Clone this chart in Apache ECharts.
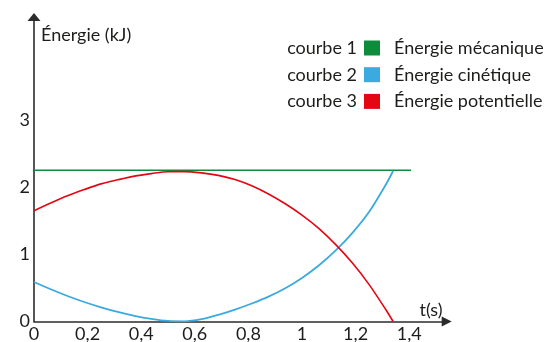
<!DOCTYPE html>
<html>
<head>
<meta charset="utf-8">
<script src="https://cdn.jsdelivr.net/npm/echarts@6/dist/echarts.min.js"></script>
<style>html,body{margin:0;padding:0;background:#fff}#c{width:552px;height:342px}</style>
</head>
<body>
<div id="c"></div>
<script>
// Data
const seriesNames = ['Énergie mécanique', 'Énergie cinétique', 'Énergie potentielle'];
const curveLabels = ['courbe 1', 'courbe 2', 'courbe 3'];
const colors = ['#0d8c3c', '#3aaae0', '#e30613'];
const yTicks = [0, 1, 2, 3];
const xTicks = [0, 0.2, 0.4, 0.6, 0.8, 1, 1.2, 1.4];

const mecaT = [0, 1.407];
const mecaE = [2.257, 2.257];

const times = [0, 0.0625, 0.125, 0.1875, 0.25, 0.3125, 0.375, 0.4375, 0.5, 0.5625, 0.625, 0.6875,
               0.75, 0.8125, 0.875, 0.9375, 1.0, 1.0625, 1.125, 1.1875, 1.25, 1.3125, 1.34];

const cinE = [0.590, 0.481, 0.381, 0.291, 0.212, 0.142, 0.085, 0.040, 0.008, 0.002, 0.034, 0.099,
              0.178, 0.269, 0.372, 0.497, 0.651, 0.836, 1.057, 1.319, 1.633, 2.040, 2.246];

const potE = [1.654, 1.769, 1.876, 1.969, 2.054, 2.115, 2.170, 2.207, 2.236, 2.237, 2.218, 2.181,
              2.118, 2.025, 1.903, 1.757, 1.588, 1.390, 1.151, 0.876, 0.554, 0.179, 0.0];

const FONT = 'Lato';
const TXT = '#1d1d1b';

function pairs(t, e) { return t.map((v, i) => [v, e[i]]); }

const chart = echarts.init(document.getElementById('c'));
chart.setOption({
  animation: false,
  grid: { left: 34, right: 105.3, top: 17, bottom: 20.5, containLabel: false, outerBoundsMode: 'none' },
  xAxis: {
    type: 'value', min: 0, max: 1.54, interval: 0.2,
    axisLine: { show: true, lineStyle: { color: '#2b2b2b', width: 1.6 }, symbol: ['none', 'triangle'], symbolSize: [10, 10] },
    axisTick: { show: false },
    splitLine: { show: false },
    axisLabel: {
      showMaxLabel: false, margin: 4, color: TXT, fontFamily: FONT, fontSize: 18,
      formatter: v => xTicks.some(x => Math.abs(x - v) < 1e-6) ? String(+v.toFixed(1)).replace('.', ',') : ''
    }
  },
  yAxis: {
    type: 'value', min: 0, max: 4.545, interval: 1,
    axisLine: { show: true, lineStyle: { color: '#2b2b2b', width: 1.6 }, symbol: ['none', 'triangle'], symbolSize: [13, 8] },
    axisTick: { show: false },
    splitLine: { show: false },
    axisLabel: {
      showMaxLabel: false, margin: 4, color: TXT, fontFamily: FONT, fontSize: 18,
      formatter: v => yTicks.indexOf(Math.round(v)) >= 0 && Math.abs(v - Math.round(v)) < 1e-6 ? String(Math.round(v)) : ''
    }
  },
  legend: {
    orient: 'vertical', left: 364, top: 38, padding: 0, itemGap: 6.7,
    itemWidth: 16, itemHeight: 15, icon: 'rect',
    data: seriesNames,
    textStyle: { fontFamily: FONT, fontSize: 18, color: TXT, lineHeight: 20, padding: [0, 0, 0, 9] }
  },
  graphic: [
    { type: 'text', x: 41, y: 35, style: { text: 'Énergie (kJ)', font: '18px Lato', fill: TXT, textAlign: 'left', textVerticalAlign: 'middle' } },
    { type: 'text', x: 431, y: 310, style: { text: 't(s)', font: '18px Lato', fill: TXT, textAlign: 'center', textVerticalAlign: 'middle' } },
    { type: 'text', x: 357, y: 48, style: { text: curveLabels[0], font: '18px Lato', fill: TXT, textAlign: 'right', textVerticalAlign: 'middle' } },
    { type: 'text', x: 357, y: 74.7, style: { text: curveLabels[1], font: '18px Lato', fill: TXT, textAlign: 'right', textVerticalAlign: 'middle' } },
    { type: 'text', x: 357, y: 101.4, style: { text: curveLabels[2], font: '18px Lato', fill: TXT, textAlign: 'right', textVerticalAlign: 'middle' } }
  ],
  series: [
    { name: seriesNames[0], type: 'line', data: pairs(mecaT, mecaE), showSymbol: false, color: colors[0], lineStyle: { width: 1.6, color: colors[0] } },
    { name: seriesNames[1], type: 'line', data: pairs(times, cinE), smooth: 0.3, showSymbol: false, color: colors[1], lineStyle: { width: 1.8, color: colors[1] } },
    { name: seriesNames[2], type: 'line', data: pairs(times, potE), smooth: 0.3, showSymbol: false, color: colors[2], lineStyle: { width: 1.6, color: colors[2] } }
  ]
});
</script>
</body>
</html>
